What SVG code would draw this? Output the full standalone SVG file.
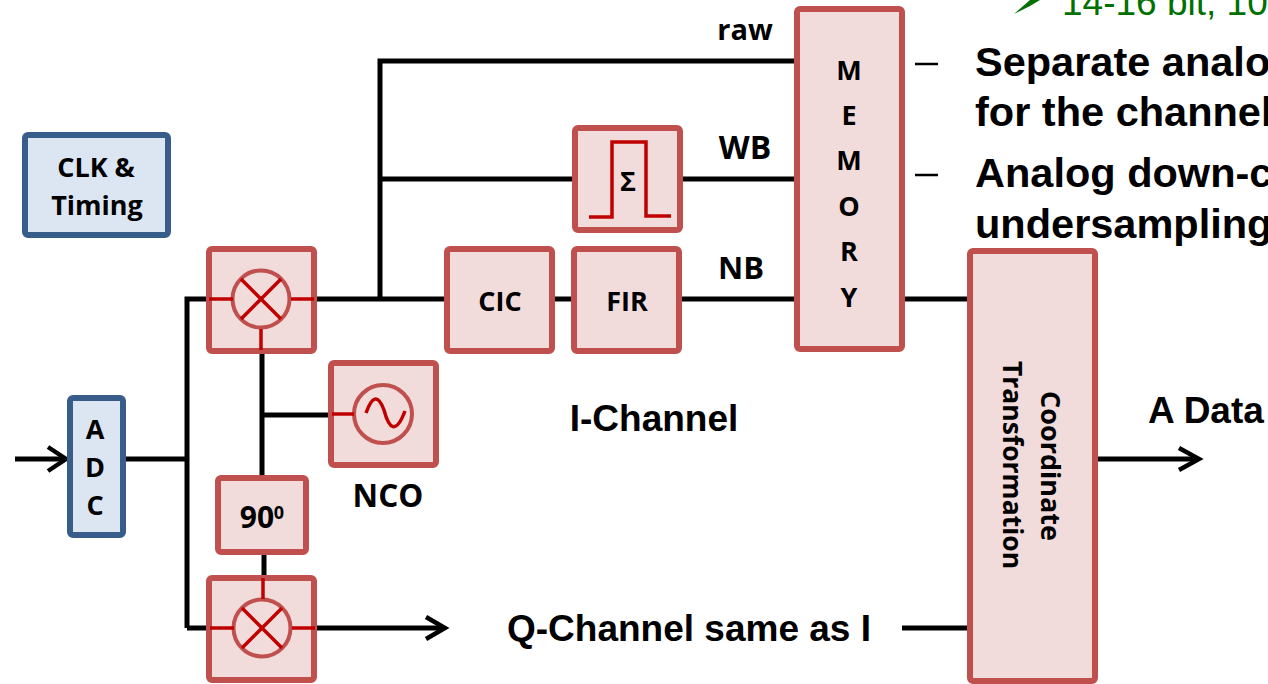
<svg xmlns="http://www.w3.org/2000/svg" width="1268" height="684" viewBox="0 0 1268 684">
<defs>
<style>
.r{fill:#f2dcdb;stroke:#c0504d;stroke-width:6}
.b{fill:#dce6f2;stroke:#385d8a;stroke-width:6}
.w{fill:none;stroke:#000;stroke-width:5}
.a{fill:none;stroke:#000;stroke-width:4.5}
.c{fill:none;stroke:#c0504d;stroke-width:4}
.d{fill:none;stroke:#c00000;stroke-width:3.5}
.t{font-family:"Open Sans","Noto Sans",sans-serif;font-weight:700;font-size:27px;fill:#000;text-anchor:middle}
.h{font-family:"Liberation Sans",Arial,sans-serif;font-weight:700;fill:#000;font-size:37px}
.mid{text-anchor:middle}
.s{font-size:41.5px}
.g{font-family:"Liberation Sans",Arial,sans-serif;font-size:37px;fill:#007000}
</style>
<g id="mix">
<circle cx="0" cy="0" r="28.5" class="c"/>
<path d="M-20-20L20 20M-20 20L20-20" class="d"/>
<path d="M-52 0H-28M30 0H53" class="d"/>
</g>
</defs>
<g id="connectors">
<path d="M123 459H187M187 628V299H207M187 628H207" class="w"/>
<path d="M315 299H446M380 299V61H796M380 179H574M681 179H796M553 299H573M681 299H796M903 299H969" class="w"/>
<path d="M262 353V477M262 415H330" class="w"/>
<path d="M264 553V576" class="w" stroke-width="6"/>
<path d="M316 628H442M902 628H969M1097 459H1197" class="w"/>
<path d="M15 459H65" class="w"/>
<path d="M48 447L66 459L48 471" class="a"/>
<path d="M426 617L445 628L426 639" class="a"/>
<path d="M1179 448L1199 459L1179 470" class="a"/>
</g>
<g id="clk"><rect x="25" y="135" width="143" height="100" rx="3" class="b"/><text class="t" x="96" y="177">CLK &amp;</text><text class="t" x="97" y="215">Timing</text></g>
<g id="adc"><rect x="70" y="398" width="53" height="137" rx="3" class="b"/><text class="t" x="95" y="439">A</text><text class="t" x="95" y="477">D</text><text class="t" x="95" y="515">C</text></g>
<g id="mixer-i"><rect x="209" y="249" width="105" height="102" rx="3" class="r"/><use href="#mix" x="261" y="299"/><path d="M261 329V350" class="d"/></g>
<g id="mixer-q"><rect x="209" y="578" width="105" height="102" rx="3" class="r"/><use href="#mix" x="262" y="628"/><path d="M263 578V599" class="d"/></g>
<g id="nco"><rect x="331" y="363" width="105" height="102" rx="3" class="r"/><circle cx="383" cy="414" r="29" class="c"/><path d="M366 413C372 396 378 394 384 410C389 429 396 435 405 411" class="d"/><path d="M332 414H354" class="d"/><text class="t" x="388" y="507" style="font-size:31.5px">NCO</text></g>
<g id="phase"><rect x="218" y="478" width="88" height="74" rx="3" class="r"/><text class="t" x="257" y="528" style="font-size:30px">90</text><text class="t" x="279" y="519" style="font-size:18px">0</text></g>
<g id="cic"><rect x="447" y="249" width="105" height="102" rx="3" class="r"/><text class="t" x="500" y="311">CIC</text></g>
<g id="fir"><rect x="574" y="249" width="105" height="102" rx="3" class="r"/><text class="t" x="627" y="311">FIR</text></g>
<g id="sum"><rect x="575" y="128" width="105" height="102" rx="3" class="r"/><path d="M589 217H612V142H646V216H671" class="d"/><text class="t" x="628" y="191">Σ</text></g>
<g id="memory"><rect x="797" y="9" width="105" height="340" rx="3" class="r"/><text class="t" x="849" y="80">M</text><text class="t" x="849" y="125">E</text><text class="t" x="849" y="170">M</text><text class="t" x="849" y="216">O</text><text class="t" x="849" y="261">R</text><text class="t" x="849" y="307">Y</text></g>
<g id="coord"><rect x="970" y="251" width="125" height="430" rx="3" class="r"/><text class="t" transform="translate(1041 466) rotate(90)">Coordinate</text><text class="t" transform="translate(1003 465) rotate(90)" style="font-size:26.5px">Transformation</text></g>
<g id="labels">
<text class="t" x="745" y="40" style="font-size:29px">raw</text>
<text class="t" x="745" y="159" style="font-size:32px">WB</text>
<text class="t" x="741" y="279" style="font-size:31px">NB</text>
<text class="h mid" x="654" y="431">I-Channel</text>
<text class="h mid" x="689" y="641">Q-Channel same as I</text>
<text class="h" x="1148" y="423">A Data</text>
</g>
<g id="background-text">
<text class="g" x="1062" y="15">14-16 bit, 100</text>
<path d="M1014 14L1030 0H1040L1030 6Z" fill="#007000"/>
<path d="M915 64H938M915 175H938" stroke="#000" stroke-width="2.5"/>
<text class="h s" x="975" y="76">Separate analog</text>
<text class="h s" x="975" y="126">for the channel</text>
<text class="h s" x="975" y="187">Analog down-c</text>
<text class="h s" x="975" y="238">undersampling</text>
</g>
</svg>
